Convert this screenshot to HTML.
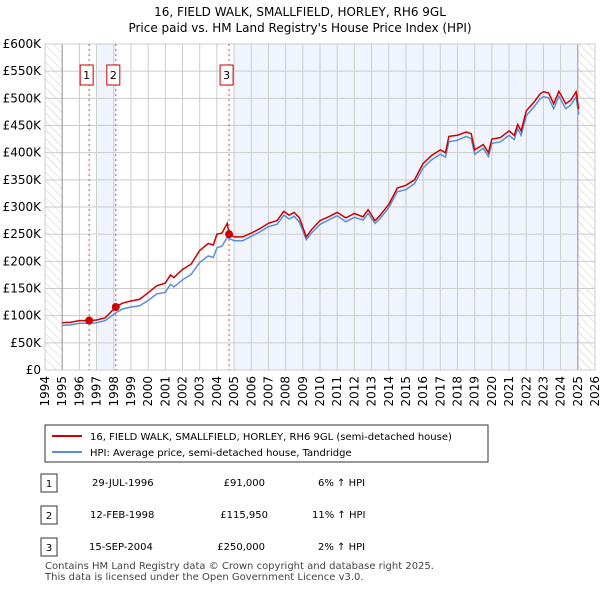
<!DOCTYPE html>
<html><head><meta charset="utf-8"><style>
body{margin:0;background:#fff;font-family:"Liberation Sans","DejaVu Sans",sans-serif;}
svg text{font-family:"DejaVu Sans","Liberation Sans",sans-serif;}
</style></head><body>
<svg width="600" height="590" viewBox="0 0 600 590" xmlns="http://www.w3.org/2000/svg">
<defs><pattern id="hatch" width="6" height="6" patternUnits="userSpaceOnUse" patternTransform="rotate(-45)"><line x1="0" y1="0" x2="0" y2="6" stroke="#ccc" stroke-width="1"/></pattern></defs>
<text x="300" y="16" text-anchor="middle" font-size="12">16, FIELD WALK, SMALLFIELD, HORLEY, RH6 9GL</text>
<text x="300" y="32" text-anchor="middle" font-size="12">Price paid vs. HM Land Registry's House Price Index (HPI)</text>
<g id="plot"></g>
<rect x="45" y="425" width="443" height="37" fill="#fff" stroke="#333"/>
<line x1="52" y1="436" x2="82" y2="436" stroke="#cc0000" stroke-width="2"/>
<text x="90" y="440" font-size="10">16, FIELD WALK, SMALLFIELD, HORLEY, RH6 9GL (semi-detached house)</text>
<line x1="52" y1="452" x2="82" y2="452" stroke="#5b8fd4" stroke-width="2"/>
<text x="90" y="456" font-size="10">HPI: Average price, semi-detached house, Tandridge</text>
<g font-size="10">
<rect x="41" y="474" width="16" height="18" fill="#fff" stroke="#333"/><text x="49" y="487" text-anchor="middle">1</text>
<text x="92" y="486">29-JUL-1996</text><text x="265" y="486" text-anchor="end">£91,000</text><text x="318" y="486">6% ↑ HPI</text>
<rect x="41" y="506" width="16" height="18" fill="#fff" stroke="#333"/><text x="49" y="519" text-anchor="middle">2</text>
<text x="90" y="518">12-FEB-1998</text><text x="268" y="518" text-anchor="end">£115,950</text><text x="312" y="518">11% ↑ HPI</text>
<rect x="41" y="538" width="16" height="18" fill="#fff" stroke="#333"/><text x="49" y="551" text-anchor="middle">3</text>
<text x="89" y="550">15-SEP-2004</text><text x="265" y="550" text-anchor="end">£250,000</text><text x="318" y="550">2% ↑ HPI</text>
</g>
<text x="45" y="569" font-size="10" fill="#444">Contains HM Land Registry data © Crown copyright and database right 2025.</text>
<text x="45" y="580" font-size="10" fill="#444">This data is licensed under the Open Government Licence v3.0.</text>
</svg>
<script>
const years=[1995,1995.5,1996,1996.57,1997,1997.5,1998.12,1998.5,1999,1999.5,2000,2000.5,2001,2001.3,2001.5,2002,2002.5,2003,2003.5,2003.8,2004,2004.3,2004.6,2004.71,2005,2005.5,2006,2006.5,2007,2007.5,2007.9,2008.2,2008.5,2008.8,2009.2,2009.5,2010,2010.5,2011,2011.5,2012,2012.5,2012.8,2013.2,2013.5,2014,2014.5,2015,2015.5,2016,2016.5,2017,2017.3,2017.5,2018,2018.5,2018.8,2019,2019.5,2019.8,2020,2020.5,2021,2021.3,2021.5,2021.7,2022,2022.5,2022.8,2023,2023.3,2023.6,2023.9,2024.3,2024.6,2024.9,2025.05];
const priceSeries=[87,88,91,91,92,96,116,123,127,130,142,155,160,175,170,185,195,220,233,230,250,252,270,250,245,245,252,260,270,275,292,285,290,280,245,258,275,282,290,280,288,282,295,275,285,305,335,340,350,380,395,405,400,430,432,438,435,405,415,400,425,428,440,432,452,440,477,495,508,512,510,490,513,490,497,512,480];
const hpiSeries=[82,83,86,86,87,91,105,112,116,118,128,140,143,158,153,166,176,198,210,207,225,228,244,242,238,238,246,254,264,268,285,278,283,272,240,252,268,276,284,273,281,276,288,270,279,299,328,332,343,372,387,397,392,420,423,430,426,397,408,393,417,420,432,424,444,432,468,486,499,503,501,481,504,481,488,503,470];
const yTicks=[0,50,100,150,200,250,300,350,400,450,500,550,600];
const xTickYears=[1994,1995,1996,1997,1998,1999,2000,2001,2002,2003,2004,2005,2006,2007,2008,2009,2010,2011,2012,2013,2014,2015,2016,2017,2018,2019,2020,2021,2022,2023,2024,2025,2026];
const saleYears=[1996.57,1998.12,2004.71];
const salePrices=[91,115.95,250];
const saleLabels=["1","2","3"];
const X0=45,X1=595,Y0=370,Y1=44;
const sx=y=>X0+(y-1994)/(2026-1994)*(X1-X0);
const sy=v=>Y0-v/600*(Y0-Y1);
const NS="http://www.w3.org/2000/svg";
const g=document.getElementById('plot');
function mk(t,a){const e=document.createElementNS(NS,t);for(const k in a)e.setAttribute(k,a[k]);g.appendChild(e);return e;}
let e;
e=mk('rect',{x:sx(1997),y:Y1,width:sx(1998.12)-sx(1997),height:Y0-Y1,fill:'#f0f5fd'});


e=mk('rect',{x:sx(2005),y:Y1,width:sx(2025)-sx(2005),height:Y0-Y1,fill:'#f0f5fd'});


e=mk('rect',{x:X0,y:Y1,width:sx(1995)-X0,height:Y0-Y1,fill:'url(#hatch)'});


e=mk('rect',{x:sx(2025),y:Y1,width:X1-sx(2025),height:Y0-Y1,fill:'url(#hatch)'});


yTicks.forEach(v=>{
 e=mk('line',{x1:X0,x2:X1,y1:sy(v),y2:sy(v),stroke:'#ccc'});
 
 
 e=mk('text',{x:X0-4,y:sy(v)+4,'text-anchor':'end','font-size':'12'});
 e.textContent=v===0?'£0':'£'+v+'K';
 
 
});
xTickYears.forEach(y=>{
 e=mk('line',{x1:sx(y),x2:sx(y),y1:Y1,y2:Y0,stroke:'#ccc'});
 
 
 e=mk('text',{x:sx(y)+4,y:Y0+6,'text-anchor':'end','font-size':'12',transform:`rotate(-90 ${sx(y)+4} ${Y0+6})`});
 e.textContent=y;
 
 
});
[1995,2025].forEach(y=>{e=mk('line',{x1:sx(y),x2:sx(y),y1:Y1,y2:Y0,stroke:'#999'});
 
 });
e=mk('rect',{x:X0,y:Y1,width:X1-X0,height:Y0-Y1,fill:'none',stroke:'#ccc'});


saleYears.forEach((y,i)=>{
 e=mk('line',{x1:sx(y),x2:sx(y),y1:Y1,y2:Y0,stroke:'#e44','stroke-dasharray':'2,3'});
 
 
 e=mk('rect',{x:sx(y)-9,y:65,width:13,height:20,fill:'#fff',stroke:'#c00'});
 
 
 e=mk('text',{x:sx(y)-2.5,y:79,'text-anchor':'middle','font-size':'11'});
 e.textContent=saleLabels[i];
 
 
});
const pts=s=>years.map((y,i)=>sx(y).toFixed(1)+','+sy(s[i]).toFixed(1)).join(' ');
e=mk('polyline',{points:pts(hpiSeries),fill:'none',stroke:'#5b8fd4','stroke-width':'1.5'});


e=mk('polyline',{points:pts(priceSeries),fill:'none',stroke:'#cc0000','stroke-width':'1.5'});


saleYears.forEach((y,i)=>{
 e=mk('circle',{cx:sx(y),cy:sy(salePrices[i]),r:4,fill:'#cc0000'});
 
 
});
</script>
</body></html>
